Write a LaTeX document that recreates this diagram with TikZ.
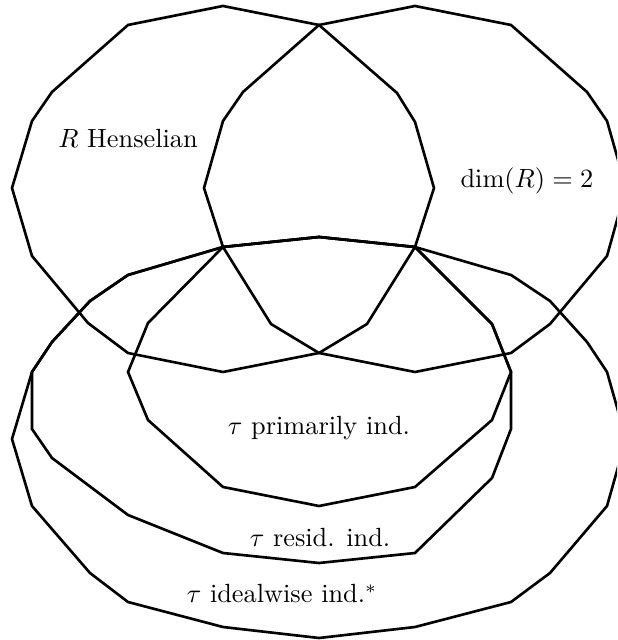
\documentclass[tikz,border=0pt]{standalone}
\usepackage{amsmath,amssymb}
\usepackage{tikz}
\usetikzlibrary{positioning,calc}
\tikzset{
region/.style={
draw,
line width=1pt,
line join=miter
},
setname/.style={
inner sep=0pt,
align=center,
font=\normalsize
}
}

\begin{document}
\begin{tikzpicture}[x=0.38pt,y=-0.38pt]
\clip (0,0) rectangle (617,640);
% top sets
\draw[region] (223,6) -- (319,25) -- (397,93) -- (415,122) -- (434,188) -- (415,247) -- (367,324) -- (319,353) -- (223,372) -- (128,353) -- (88,323) -- (32,256) -- (12,188) -- (32,121) -- (52,92) -- (128,25) -- cycle;
\draw[region] (415,6) -- (511,25) -- (587,92) -- (607,121) -- (626,188) -- (607,256) -- (550,324) -- (511,353) -- (415,372) -- (319,353) -- (271,324) -- (223,247) -- (204,188) -- (223,121) -- (243,92) -- (319,25) -- cycle;
% bottom sets
\draw[region] (319,237) -- (415,247) -- (511,275) -- (550,301) -- (587,342) -- (607,372) -- (626,439) -- (607,506) -- (550,573) -- (511,602) -- (415,627) -- (319,638) -- (223,627) -- (128,602) -- (90,573) -- (32,506) -- (12,439) -- (32,372) -- (52,342) -- (90,301) -- (128,275) -- (223,247) -- cycle;
\draw[region] (319,237) -- (415,247) -- (492,324) -- (511,372) -- (511,429) -- (492,478) -- (415,553) -- (319,563) -- (223,553) -- (128,515) -- (52,458) -- (32,429) -- (32,372) -- (52,342) -- (90,301) -- (128,275) -- (223,247) -- cycle;
\draw[region] (319,237) -- (415,247) -- (492,324) -- (511,372) -- (492,420) -- (415,487) -- (319,506) -- (223,487) -- (148,420) -- (128,372) -- (148,323) -- (223,247) -- cycle;

\node[setname](hens) at (128,139) {$R$ Henselian};
\node[setname](dimtwo) at (527,181) {$\dim(R) = 2$};
\node[setname](prim) at (319,428) {$\tau$ primarily ind.};
\node[setname](resid) at (320,538) {$\tau$ resid. ind.};
\node[setname](ideal) at (282,594) {$\tau$ idealwise ind.$^*$};
\end{tikzpicture}
\end{document}
